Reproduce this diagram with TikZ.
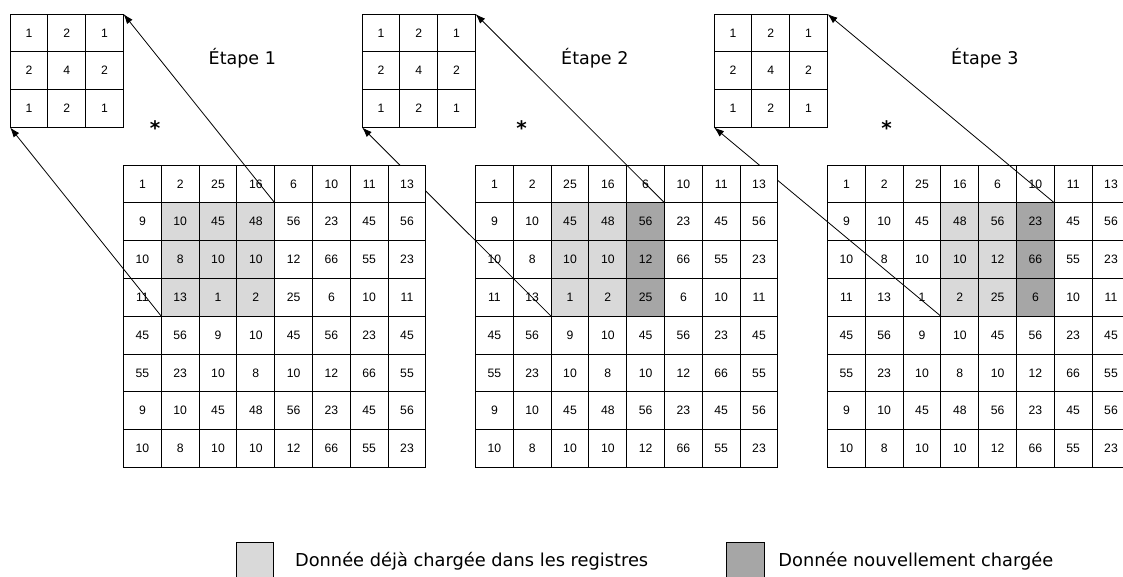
\documentclass[tikz,border=0pt]{standalone}
\usepackage{fontspec}
\setmainfont{DejaVu Sans}
\newfontfamily\numfont{Liberation Sans}
\usepackage{tikz}
\usetikzlibrary{arrows.meta,positioning}
\definecolor{oldgray}{RGB}{217,217,217}
\definecolor{newgray}{RGB}{166,166,166}

\begin{document}
\begin{tikzpicture}[x=1pt, y=-1pt,
    cell/.style={draw, line width=1pt, fill=white, minimum size=37.8pt, inner sep=0pt, outer sep=0pt,
        font=\numfont\fontsize{12.2}{14}\selectfont},
    link/.style={-{Latex[length=10pt,width=7pt]}, line width=0.8pt},
    steplabel/.style={anchor=base west, inner sep=0pt, font=\fontsize{17.5}{20}\selectfont},
    starmark/.style={inner sep=0pt, font=\bfseries\fontsize{20}{22}\selectfont},
    legbox/.style={draw, line width=1pt, minimum size=37.8pt, inner sep=0pt, outer sep=0pt},
    legtext/.style={inner sep=0pt, font=\fontsize{17.8}{20}\selectfont}]
    \path[use as bounding box, clip] (0,0) rectangle (1123,576);

    % Steps drawn from right to left, each one with its grid, kernel and links
    \foreach \s/\gx/\dk in {3/827.5/5, 2/475.5/4, 1/123.5/-1} {
        % Image grid
        \foreach \row [count=\ri from 0] in {{1,2,25,16,6,10,11,13},{9,10,45,48,56,23,45,56},
                {10,8,10,10,12,66,55,23},{11,13,1,2,25,6,10,11},{45,56,9,10,45,56,23,45},
                {55,23,10,8,10,12,66,55},{9,10,45,48,56,23,45,56},{10,8,10,10,12,66,55,23}} {
            \foreach \v [count=\ci from 0] in \row {
                \pgfmathtruncatemacro\kind{((\ri>=1)&&(\ri<=3)&&(\ci>=\s)&&(\ci<=\s+2)) ? ((\ci==\dk) ? 2 : 1) : 0}
                \ifcase\kind \def\cellfill{white}\or \def\cellfill{oldgray}\or \def\cellfill{newgray}\fi
                \node[cell, fill=\cellfill] (g\s-\ri-\ci) at (\gx+37.8*\ci+18.9, 165+37.8*\ri+18.9) {\v};
            }
        }
        % Kernel
        \foreach \row [count=\ri from 0] in {{1,2,1},{2,4,2},{1,2,1}} {
            \foreach \v [count=\ci from 0] in \row {
                \node[cell] (k\s-\ri-\ci) at (\gx-113.4+37.8*\ci+18.9, 14+37.8*\ri+18.9) {\v};
            }
        }
        % Links from window corners to kernel corners
        \pgfmathtruncatemacro\last{\s+2}
        \draw[link] (g\s-1-\last.north east) -- (k\s-0-2.north east);
        \draw[link] (g\s-3-\s.south west) -- (k\s-2-0.south west);
    }

    % Step labels and stars
    \node[steplabel] (step1) at (208.5,64) {Étape 1};
    \node[steplabel] (step2) at (561,64) {Étape 2};
    \node[steplabel] (step3) at (951,64) {Étape 3};
    \node[starmark] (star1) at (155,128.5) {*};
    \node[starmark] (star2) at (521.7,128.5) {*};
    \node[starmark] (star3) at (886.7,128.5) {*};

    % Legend
    \node[legbox, fill=oldgray] (leg-old) at (255,561.2) {};
    \node[legtext, right=21pt of leg-old] (leg-old-text) {Donnée déjà chargée dans les registres};
    \node[legbox, fill=newgray] (leg-new) at (745.3,561.2) {};
    \node[legtext, right=14pt of leg-new] (leg-new-text) {Donnée nouvellement chargée};
\end{tikzpicture}
\end{document}
